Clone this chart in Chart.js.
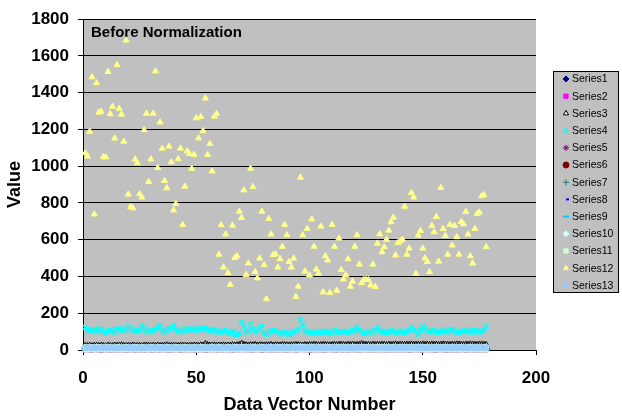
<!DOCTYPE html>
<html>
<head>
<meta charset="utf-8">
<script src="https://cdn.jsdelivr.net/npm/chart.js"></script>
<style>
  body { margin: 0; background: #fff; }
  #wrap { position: relative; width: 622px; height: 417px; }
</style>
</head>
<body>
<div id="wrap"><canvas id="chart" width="622" height="417"></canvas></div>
<script>
// Data vector values (x = 1..178)
const series1 = [4,5,3,4,6,5,4,3,5,4, 5,4,6,3,4,5,4,5,3,4, 6,4,5,4,3,5,4,6,5,4, 3,5,4,5,6,4,3,4,5,4, 5,3,4,6,5,4,5,3,4,5, 4,6,5,4,3,5,4,5,4,6, 3,4,5,4,5,3,6,4,5,7, 5,4,3,5,4,6,5,4,3,5, 4,5,4,6,3,4,5,4,5,3, 4,6,5,4,5,7,6,4,5,4, 3,5,4,6,5,4,3,5,4,5, 6,4,5,3,4,5,4,6,5,4, 3,5,4,5,4,6,3,4,5,4, 5,4,6,5,3,4,5,4,6,5, 4,3,5,4,6,5,4,5,3,4, 5,6,4,5,4,3,5,4,6,5, 4,5,3,4,6,5,4,5,4,3, 5,4,6,5,4,3,5,4];
const series2 = [1,2,1,0,2,1,1,2,0,1, 2,1,1,0,2,1,2,1,1,0, 1,2,1,1,2,0,1,2,1,1, 0,2,1,1,2,1,0,1,2,1, 1,2,0,1,1,2,1,0,2,1, 1,2,1,1,0,2,1,1,2,1, 0,1,2,1,1,2,0,1,1,3, 2,1,1,2,0,1,2,1,1,0, 2,1,1,2,1,0,1,2,1,1, 2,0,1,1,2,3,2,1,0,1, 2,1,1,0,2,1,1,2,1,0, 1,2,1,1,2,0,1,1,2,1, 0,2,1,1,2,1,0,1,2,1, 1,0,2,1,1,2,1,0,1,2, 1,1,2,0,1,2,1,1,0,2, 1,1,2,1,0,1,2,1,1,2, 0,1,2,1,1,0,2,1,1,2, 1,0,1,2,1,1,2,1];
const series3 = [28,27,29,26,28,30,27,29,28,26, 29,28,27,30,28,29,31,28,27,29, 28,30,27,29,28,26,29,30,28,27, 29,28,30,27,28,29,31,28,27,29, 28,27,30,29,28,27,29,28,30,29, 28,31,30,38,33,30,29,31,28,30, 29,31,28,30,29,32,30,31,33,40, 34,31,30,32,31,33,30,32,31,30, 32,31,33,30,32,31,30,33,32,31, 30,32,31,33,32,31,30,32,31,33, 32,34,33,31,32,34,33,32,31,33, 34,32,33,35,33,32,34,33,35,32, 33,34,38,35,33,34,32,35,33,34, 33,35,34,32,35,33,34,36,33,35, 34,33,35,34,36,33,35,34,33,36, 34,35,33,36,34,35,33,34,36,35, 34,33,35,34,36,35,34,33,35,34, 36,35,34,33,35,36,34,33];
const series4 = [123,110,104,112,106,101,115,108,98,89, 102,110,104,96,112,118,109,103,114,128, 116,107,100,112,105,130,118,104,99,108, 102,113,121,133,110,98,106,115,120,130, 112,104,99,108,115,103,110,117,112,105, 111,118,115,121,108,104,112,99,106,101, 95,103,110,98,92,100,86,81,93,151, 128,96,105,139,112,98,106,118,130,92, 86,97,104,110,98,102,93,88,95,99, 84,90,96,102,112,164,134,105,98,92, 95,88,100,96,91,98,104,93,99,90, 107,101,94,99,103,96,92,100,111,104, 125,110,98,93,89,97,102,95,108,125, 104,97,100,93,98,106,101,95,92,104, 99,93,100,107,125,112,99,86,105,128, 118,104,97,102,110,98,95,101,107,100, 96,107,112,104,98,93,101,106,99,108, 97,100,110,104,95,99,108,128];
const series5 = [3,4,2,3,5,4,3,2,4,3, 4,3,5,2,3,4,3,4,2,3, 5,3,4,3,2,4,3,5,4,3, 2,4,3,4,5,3,2,3,4,3, 4,2,3,5,4,3,4,2,3,4, 3,5,4,3,2,4,3,4,3,5, 2,3,4,3,4,2,5,3,4,6, 4,3,2,4,3,5,4,3,2,4, 3,4,3,5,2,3,4,3,4,2, 3,5,4,3,4,6,5,3,4,3, 2,4,3,5,4,3,2,4,3,4, 5,3,4,2,3,4,3,5,4,3, 2,4,3,4,3,5,2,3,4,3, 4,3,5,4,2,3,4,3,5,4, 3,2,4,3,5,4,3,4,2,3, 4,5,3,4,3,2,4,3,5,4, 3,4,2,3,5,4,3,4,3,2, 4,3,5,4,3,2,4,3];
const series6 = [7,8,6,7,9,7,8,6,7,8, 6,7,8,7,9,6,7,8,7,6, 8,7,9,7,6,8,7,7,8,6, 7,9,8,7,6,7,8,7,9,6, 8,7,7,6,8,9,7,8,6,7, 8,7,6,9,8,7,7,8,6,7, 9,8,7,6,7,8,7,9,8,10, 8,7,6,8,7,9,7,8,6,7, 8,7,9,6,7,8,7,6,8,7, 9,7,8,6,7,10,9,7,8,6, 7,8,7,9,6,8,7,7,8,9, 6,7,8,7,6,9,8,7,7,8, 6,7,9,8,7,6,8,7,7,9, 8,6,7,8,7,9,6,8,7,7, 8,9,6,7,8,7,7,9,8,6, 7,8,7,6,9,8,7,7,8,6, 9,7,8,7,6,8,7,9,7,8, 6,7,8,9,7,6,8,7];
const series7 = [5,4,6,5,4,5,6,4,5,5, 6,4,5,6,5,4,5,6,5,4, 5,6,4,5,5,6,4,5,6,5, 4,5,5,6,4,5,6,5,4,6, 5,4,6,5,5,4,6,5,4,5, 6,5,4,5,6,5,4,6,5,5, 4,6,5,4,5,6,5,4,6,7, 5,4,6,5,4,5,6,5,4,6, 5,5,4,6,5,4,5,6,5,4, 6,5,4,5,6,7,5,4,6,5, 4,5,6,5,4,6,5,5,4,6, 5,4,5,6,5,4,6,5,5,4, 6,5,4,6,5,5,4,6,5,4, 5,6,4,5,6,5,4,5,6,5, 4,6,5,5,4,6,5,4,5,6, 5,4,6,5,5,4,6,5,4,5, 6,5,4,5,6,4,5,6,5,4, 6,5,5,4,6,5,4,6];
const series8 = [10,11,9,10,12,10,9,11,10,10, 11,9,10,12,11,10,9,10,11,10, 12,10,9,11,10,10,12,9,10,11, 10,9,11,10,12,10,11,9,10,10, 11,10,12,9,10,11,10,10,9,11, 12,10,10,11,9,10,12,10,11,10, 9,11,10,10,12,9,10,11,10,13, 11,10,9,12,10,11,10,9,11,10, 10,12,9,10,11,10,10,12,9,11, 10,10,11,9,10,13,11,10,12,9, 10,11,10,10,9,12,10,11,10,10, 9,11,12,10,10,9,11,10,12,10, 10,9,11,10,12,10,9,11,10,10, 12,10,9,11,10,10,12,9,10,11, 10,12,10,9,11,10,10,11,12,9, 10,11,10,10,9,12,11,10,10,11, 9,10,12,10,11,10,9,11,10,12, 10,10,11,9,10,12,11,10];
const series9 = [13,12,14,13,12,14,13,13,12,14, 13,14,12,13,13,14,12,13,14,13, 12,13,14,13,12,14,13,12,13,14, 13,12,14,13,13,12,14,13,12,13, 14,13,12,13,14,13,13,12,14,13, 12,14,13,13,12,13,14,12,13,14, 13,12,13,14,13,12,14,13,13,15, 13,14,12,13,14,13,12,13,14,13, 12,13,14,12,13,14,13,13,12,14, 13,12,14,13,13,15,14,13,12,13, 14,13,12,14,13,13,12,14,13,12, 13,14,13,12,14,13,13,12,14,13, 12,13,14,13,12,14,13,13,12,14, 13,12,14,13,13,12,14,13,12,13, 14,13,12,13,14,13,12,14,13,13, 12,14,13,12,13,14,13,13,12,14, 13,12,14,13,13,12,14,13,12,13, 14,13,12,14,13,13,12,14];
const series10 = [17,16,18,17,16,18,17,17,16,18, 17,18,16,17,17,18,16,17,18,17, 16,17,18,17,16,18,17,16,17,18, 17,16,18,17,17,16,18,17,16,17, 18,17,16,17,18,17,17,16,18,17, 16,18,17,17,16,17,19,16,17,18, 17,16,17,18,17,16,18,17,17,20, 17,18,16,17,18,17,16,17,18,17, 16,17,18,16,17,18,17,17,16,18, 17,16,18,17,17,20,18,17,16,17, 18,17,16,18,17,17,16,18,17,16, 17,18,17,16,18,17,17,16,18,17, 16,17,18,17,16,18,17,17,16,18, 17,16,18,17,17,16,18,17,16,17, 18,17,16,17,18,17,16,18,17,17, 16,18,17,16,17,18,17,17,16,18, 17,16,18,17,17,16,18,17,16,17, 18,17,16,18,17,17,16,18];
const series11 = [1,0,2,1,1,0,1,2,1,0, 1,1,2,0,1,1,0,2,1,1, 0,1,2,1,0,1,1,2,0,1, 1,0,2,1,1,0,1,2,1,1, 0,1,1,2,0,1,1,0,2,1, 1,0,1,2,1,1,0,1,1,2, 0,1,1,0,2,1,1,0,1,2, 1,1,0,2,1,1,0,1,2,1, 0,1,1,2,0,1,1,0,2,1, 1,0,1,1,2,2,1,0,1,1, 2,0,1,1,0,2,1,1,0,1, 1,2,0,1,1,0,2,1,1,0, 1,1,2,0,1,1,0,2,1,1, 0,1,1,2,0,1,1,0,2,1, 1,0,1,2,1,1,0,1,1,2, 0,1,1,0,2,1,1,0,1,2, 1,1,0,2,1,1,0,1,2,1, 0,1,1,2,0,1,1,0];
const series12 = [1072,1054,1189,1485,739,1453,1293,1298,1050,1050,
  1514,1284,1325,1152,1551,1314,1282,1135,1685,847,
  780,772,1038,1018,849,831,1197,1287,915,1038,
  1287,1517,991,1239,1097,921,881,1108,1023,761,
  795,1039,1097,682,890,1082,1068,987,1063,1262,
  1153,1269,1192,1370,1063,1122,973,1271,1286,520,
  680,450,630,419,356,678,502,511,754,720,
  870,410,472,987,888,426,391,499,754,463,
  278,714,630,518,522,450,495,563,682,626,
  480,450,499,290,346,939,626,428,660,407,
  712,563,439,416,673,315,511,489,312,682,
  563,324,608,436,385,409,495,346,373,563,
  626,466,365,382,382,382,353,466,344,580,
  631,533,561,601,651,696,721,516,583,592,
  601,781,520,553,856,831,416,624,649,553,
  500,480,425,677,642,725,482,883,660,622,
  520,682,570,677,615,520,698,685,752,630,
  511,472,660,741,750,838,844,561];
const series13 = [12,11,13,12,10,13,12,11,13,12, 11,13,12,10,12,13,11,12,13,11, 12,13,11,12,10,13,12,11,12,13, 11,12,13,12,10,12,13,11,12,12, 13,11,12,10,13,12,11,13,12,11, 12,13,11,12,14,12,11,13,12,12, 11,13,12,11,13,12,10,12,13,14, 12,11,13,12,11,13,12,12,11,13, 12,11,13,12,10,12,13,11,12,13, 11,12,13,12,11,14,13,12,11,12, 13,11,12,13,12,11,13,12,12,11, 13,12,11,12,13,11,12,13,12,10, 12,13,11,12,13,12,11,13,12,12, 11,13,12,11,12,13,12,11,13,12, 12,11,13,12,11,13,12,12,11,13, 12,11,12,13,12,11,13,12,12,11, 13,12,11,13,12,12,11,13,12,11, 12,13,12,11,13,12,12,11];

const seriesNames = ['Series1','Series2','Series3','Series4','Series5','Series6','Series7',
  'Series8','Series9','Series10','Series11','Series12','Series13'];
const seriesData = [series1, series2, series3, series4, series5, series6, series7,
  series8, series9, series10, series11, series12, series13];
const xTicks = [0, 50, 100, 150, 200];
const yTicks = [0, 200, 400, 600, 800, 1000, 1200, 1400, 1600, 1800];

// marker look per series (Excel default scatter markers)
const markers = [
  { style: 'rectRot',  r: 3,   fill: '#000080', line: '#000080' },
  { style: 'rect',     r: 3,   fill: '#FF00FF', line: '#FF00FF' },
  { style: 'triangle', r: 2.5, fill: 'rgba(0,0,0,0)', line: '#000000' },
  { style: 'crossRot', r: 3.5, fill: '#00FFFF', line: '#00FFFF', w: 1.5 },
  { style: 'star',     r: 3,   fill: '#800080', line: '#800080' },
  { style: 'circle',   r: 3,   fill: '#800000', line: '#800000' },
  { style: 'cross',    r: 3,   fill: '#008080', line: '#008080' },
  { style: 'dash',     r: 3,   fill: '#0000FF', line: '#0000FF', w: 2 },
  { style: 'line',     r: 4,   fill: '#00CCFF', line: '#00CCFF', w: 2 },
  { style: 'rectRot',  r: 3,   fill: '#CCFFFF', line: '#CCFFFF' },
  { style: 'rect',     r: 3,   fill: '#CCFFCC', line: '#CCFFCC' },
  { style: 'triangle', r: 3.5, fill: '#FFFF99', line: '#FFFF80' },
  { style: 'crossRot', r: 4,   fill: '#99CCFF', line: '#99CCFF', w: 2 }
];

const FONT = '"Liberation Sans", Arial, sans-serif';
Chart.defaults.font.family = FONT;
Chart.defaults.color = '#000';

const datasets = seriesData.map((vals, i) => ({
  label: seriesNames[i],
  data: vals.map((v, j) => ({ x: j + 1, y: v })),
  pointStyle: markers[i].style,
  pointRadius: markers[i].r,
  pointHoverRadius: markers[i].r,
  backgroundColor: markers[i].fill,
  borderColor: markers[i].line,
  pointBorderWidth: markers[i].w || 1,
  showLine: false,
  clip: false,
  order: seriesData.length - 1 - i
}));

// grey plot area
const plotBg = {
  id: 'plotBg',
  beforeDraw(chart) {
    const { ctx, chartArea: a } = chart;
    ctx.save();
    ctx.fillStyle = '#C0C0C0';
    ctx.fillRect(a.left, a.top, a.right - a.left, a.bottom - a.top);
    ctx.restore();
  }
};

// title inside the plot
const innerTitle = {
  id: 'innerTitle',
  beforeDatasetsDraw(chart) {
    const { ctx, chartArea: a } = chart;
    ctx.save();
    ctx.font = 'bold 15px ' + FONT;
    ctx.fillStyle = '#000';
    ctx.textBaseline = 'middle';
    ctx.fillText('Before Normalization', a.left + 8, a.top + 14);
    ctx.restore();
  }
};

// boxed legend on the right like Excel's
const boxLegend = {
  id: 'boxLegend',
  afterDraw(chart) {
    const ctx = chart.ctx;
    const bx = 553, by = 71, bw = 66, bh = 222;
    ctx.save();
    ctx.fillStyle = '#C0C0C0';
    ctx.fillRect(bx, by, bw, bh);
    ctx.strokeStyle = '#000';
    ctx.lineWidth = 1;
    ctx.strokeRect(bx + 0.5, by + 0.5, bw - 1, bh - 1);
    ctx.font = '10.5px ' + FONT;
    ctx.textBaseline = 'middle';
    chart.data.datasets.forEach((ds, i) => {
      const y = by + 8 + i * 17.2;
      const m = markers[i];
      ctx.fillStyle = i === 2 ? '#FFFFFF' : m.fill;
      ctx.strokeStyle = m.line;
      ctx.lineWidth = m.w || 1;
      Chart.helpers.drawPoint(ctx, { pointStyle: m.style, radius: 3, borderWidth: m.w || 1, rotation: 0 }, bx + 13, y);
      ctx.fillStyle = '#000';
      ctx.fillText(ds.label, bx + 19, y + 0.5);
    });
    ctx.restore();
  }
};

new Chart(document.getElementById('chart'), {
  type: 'scatter',
  data: { datasets },
  options: {
    responsive: false,
    animation: false,
    devicePixelRatio: 1,
    layout: { padding: { top: 16, right: 86, left: 0, bottom: 0 } },
    plugins: { legend: { display: false }, tooltip: { enabled: false } },
    scales: {
      x: {
        type: 'linear',
        min: 0, max: 200,
        afterFit(s) { s.height = 67; },
        afterBuildTicks(s) { s.ticks = xTicks.map(v => ({ value: v })); },
        ticks: { font: { size: 17, weight: 'bold' }, color: '#000', padding: 13, maxRotation: 0, callback: v => String(v) },
        grid: { drawOnChartArea: false, drawTicks: true, tickLength: 5, color: '#000' },
        border: { color: '#000', width: 1 },
        title: { display: true, text: 'Data Vector Number', font: { size: 18, weight: 'bold' }, color: '#000', padding: { top: 0, bottom: 1 } }
      },
      y: {
        min: 0, max: 1800,
        afterFit(s) { s.width = 83; },
        afterBuildTicks(s) { s.ticks = yTicks.map(v => ({ value: v })); },
        ticks: { font: { size: 17, weight: 'bold' }, color: '#000', padding: 9, callback: v => String(v) },
        grid: { color: '#000', lineWidth: 1, tickLength: 5 },
        border: { color: '#000', width: 1 },
        title: { display: true, text: 'Value', font: { size: 18, weight: 'bold' }, color: '#000', padding: { top: 4, bottom: 0 } }
      }
    }
  },
  plugins: [plotBg, innerTitle, boxLegend]
});
</script>
</body>
</html>
